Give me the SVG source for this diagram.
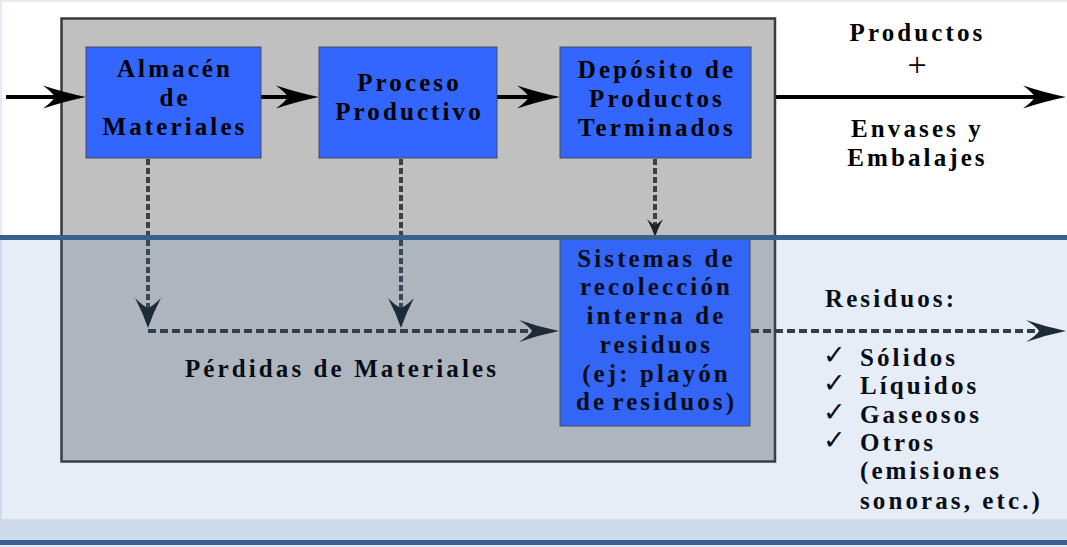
<svg xmlns="http://www.w3.org/2000/svg" width="1067" height="547" viewBox="0 0 1067 547">
  <style>
    .t { font-family: "Liberation Serif", "Times New Roman", serif; font-weight: bold; font-size: 25px; letter-spacing: 3.1px; fill: #000; }
    .c { text-anchor: middle; }
    .box { fill: #3366ff; stroke: #4a4a4a; stroke-width: 1; }
    .solid { stroke: #000; stroke-width: 4; fill: none; }
    .dv { stroke: #3c4147; stroke-width: 4; fill: none; stroke-dasharray: 6 3; }
    .dh { stroke: #34393f; stroke-width: 4; fill: none; stroke-dasharray: 8 4; }
    .chk { font-family: "DejaVu Sans", sans-serif; font-size: 27px; fill: #000; }
  </style>
  <defs>
    <marker id="arr" markerUnits="userSpaceOnUse" viewBox="-46 -13 48 26" markerWidth="48" markerHeight="26" refX="-31" refY="0" orient="auto" overflow="visible">
      <path d="M0,0 Q-20,-4 -43,-11.5 Q-33,-4 -31,0 Q-33,4 -43,11.5 Q-20,4 0,0 Z" fill="#000"/>
    </marker>
    <marker id="adh" markerUnits="userSpaceOnUse" viewBox="-42 -12 44 24" markerWidth="44" markerHeight="24" refX="-27" refY="0" orient="auto" overflow="visible">
      <path d="M0,0 Q-20,-4 -40,-11 Q-29,-4 -27,0 Q-29,4 -40,11 Q-20,4 0,0 Z" fill="#1c2128"/>
    </marker>
    <marker id="adv" markerUnits="userSpaceOnUse" viewBox="-32 -14 34 28" markerWidth="34" markerHeight="28" refX="-20" refY="0" orient="auto" overflow="visible">
      <path d="M0,0 Q-15,-5 -30,-13 Q-22,-5 -20,0 Q-22,5 -30,13 Q-15,5 0,0 Z" fill="#1c2128"/>
    </marker>
    <marker id="ads" markerUnits="userSpaceOnUse" viewBox="-20 -9 22 18" markerWidth="22" markerHeight="18" refX="-12" refY="0" orient="auto" overflow="visible">
      <path d="M0,0 Q-9,-3 -18,-8 Q-13,-3 -12,0 Q-13,3 -18,8 Q-9,3 0,0 Z" fill="#1c2128"/>
    </marker>
  </defs>

  <!-- background -->
  <rect x="0" y="0" width="1067" height="547" fill="#ffffff"/>
  <rect x="0" y="0" width="1067" height="2" fill="#e4ebf5"/>
  <rect x="0" y="0" width="2" height="547" fill="#e4ebf5"/>

  <!-- enclosing gray box -->
  <rect id="planta" x="61.5" y="18.5" width="713.5" height="443" fill="#c0c0c0" stroke="#3a3a3a" stroke-width="2.5"/>

  <g id="connectors">
    <line class="solid" x1="6" y1="97" x2="55" y2="97" marker-end="url(#arr)"/>
    <line class="solid" x1="261" y1="97" x2="288" y2="97" marker-end="url(#arr)"/>
    <line class="solid" x1="497" y1="97" x2="529" y2="97" marker-end="url(#arr)"/>
    <line class="solid" x1="776" y1="97" x2="1035" y2="97" marker-end="url(#arr)"/>
    <line class="dv" x1="148" y1="159" x2="148" y2="308" marker-end="url(#adv)"/>
    <line class="dv" x1="401" y1="159" x2="401" y2="308" marker-end="url(#adv)"/>
    <line class="dv" x1="655" y1="159" x2="655" y2="225" marker-end="url(#ads)"/>
    <line class="dh" x1="148" y1="331" x2="532" y2="331" marker-end="url(#adh)"/>
    <line class="dh" x1="751" y1="331" x2="1039" y2="331" marker-end="url(#adh)"/>
  </g>

  <g id="almacen">
    <rect class="box" x="86" y="47" width="175" height="111"/>
    <text class="t c" x="175" y="77">Almacén</text>
    <text class="t c" x="175" y="106">de</text>
    <text class="t c" x="175" y="135">Materiales</text>
  </g>

  <g id="proceso">
    <rect class="box" x="319" y="47" width="178" height="111"/>
    <text class="t c" x="409.5" y="91">Proceso</text>
    <text class="t c" x="409.5" y="120">Productivo</text>
  </g>

  <g id="deposito">
    <rect class="box" x="560" y="47" width="191" height="111"/>
    <text class="t c" x="657" y="78">Depósito de</text>
    <text class="t c" x="657" y="107">Productos</text>
    <text class="t c" x="657" y="136">Terminados</text>
  </g>

  <g id="sistemas">
    <rect class="box" x="560" y="238" width="190" height="188"/>
    <text class="t c" x="656.5" y="267">Sistemas de</text>
    <text class="t c" x="656.5" y="295">recolección</text>
    <text class="t c" x="656.5" y="324">interna de</text>
    <text class="t c" x="656.5" y="353">residuos</text>
    <text class="t c" x="656.5" y="382">(ej: playón</text>
    <text class="t c" x="656.5" y="410" word-spacing="-4">de residuos)</text>
  </g>

  <g id="salida-productos">
    <text class="t c" x="917.5" y="41">Productos</text>
    <text x="917" y="76" text-anchor="middle" font-family="Liberation Serif, serif" font-size="34" fill="#000">+</text>
    <text class="t c" x="917.5" y="137">Envases y</text>
    <text class="t c" x="917.5" y="166">Embalajes</text>
  </g>

  <g id="perdidas">
    <text class="t" x="185" y="377">Pérdidas de Materiales</text>
  </g>

  <g id="residuos">
    <text class="t" x="825" y="307">Residuos:</text>
    <text class="chk" x="823" y="364">✓</text>
    <text class="chk" x="823" y="392">✓</text>
    <text class="chk" x="823" y="421">✓</text>
    <text class="chk" x="823" y="449">✓</text>
    <text class="t" x="860" y="366">Sólidos</text>
    <text class="t" x="860" y="394">Líquidos</text>
    <text class="t" x="860" y="423">Gaseosos</text>
    <text class="t" x="860" y="451">Otros</text>
    <text class="t" x="860" y="479">(emisiones</text>
    <text class="t" x="860" y="509">sonoras, etc.)</text>
  </g>

  <!-- lower tinted band -->
  <rect x="0" y="240" width="1067" height="279" fill="#3d6fb5" fill-opacity="0.12"/>
  <rect x="0" y="519" width="1067" height="21" fill="#cfdbec"/>
  <rect x="0" y="235" width="1067" height="5" fill="#3b5f8e"/>
  <rect x="0" y="540" width="1067" height="5" fill="#3b5f8e"/>
  <rect x="0" y="545" width="1067" height="2" fill="#e4ebf5"/>
</svg>
